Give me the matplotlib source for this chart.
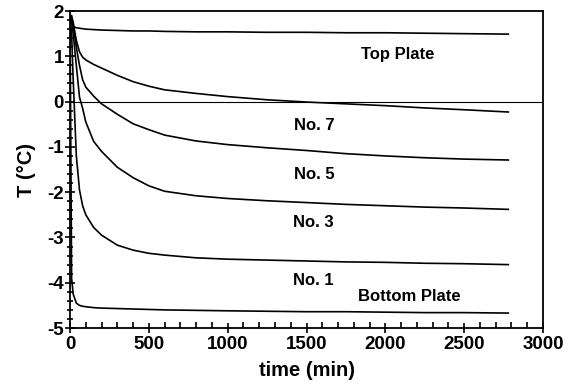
import matplotlib
matplotlib.use("Agg")
import matplotlib.pyplot as plt
from matplotlib.ticker import MultipleLocator

plt.rcParams['font.family'] = ['Liberation Sans', 'DejaVu Sans']
plt.rcParams['axes.unicode_minus'] = False

time = [0, 10, 20, 40, 60, 80, 100, 150, 200, 300, 400, 500, 600, 800,
        1000, 1250, 1500, 1750, 2000, 2250, 2500, 2780]

top_plate = [1.9, 1.75, 1.66, 1.63, 1.62, 1.61, 1.6, 1.59, 1.58, 1.57, 1.56, 1.56,
             1.55, 1.54, 1.54, 1.53, 1.53, 1.52, 1.52, 1.51, 1.5, 1.49]
no7 = [1.9, 1.9, 1.75, 1.35, 1.1, 0.98, 0.92, 0.82, 0.74, 0.58, 0.44, 0.34,
       0.26, 0.18, 0.11, 0.04, -0.01, -0.05, -0.09, -0.14, -0.18, -0.23]
no5 = [1.9, 1.85, 1.7, 1.2, 0.8, 0.48, 0.32, 0.12, -0.05, -0.28, -0.49, -0.62,
       -0.74, -0.87, -0.95, -1.02, -1.08, -1.15, -1.2, -1.24, -1.27, -1.29]
no3 = [1.9, 1.8, 1.5, 0.8, 0.1, -0.15, -0.45, -0.88, -1.1, -1.45, -1.68, -1.86,
       -1.98, -2.08, -2.14, -2.19, -2.23, -2.27, -2.3, -2.33, -2.35, -2.38]
no1 = [1.9, 1.5, 0.5, -1.2, -1.95, -2.3, -2.5, -2.78, -2.95, -3.17, -3.28, -3.35,
       -3.39, -3.45, -3.48, -3.5, -3.52, -3.54, -3.55, -3.57, -3.58, -3.6]
bottom_plate = [1.9, -3.9, -4.25, -4.45, -4.5, -4.52, -4.53, -4.55, -4.56, -4.57, -4.58, -4.59,
                -4.6, -4.61, -4.62, -4.63, -4.64, -4.64, -4.65, -4.66, -4.66, -4.67]

series = [top_plate, no7, no5, no3, no1, bottom_plate]

labels = ["Top Plate", "No. 7", "No. 5", "No. 3", "No. 1", "Bottom Plate"]
label_t = [2080, 1550, 1550, 1540, 1540, 2150]
label_T = [1.03, -0.52, -1.62, -2.68, -3.94, -4.31]

fig = plt.figure(figsize=(5.86, 3.88), dpi=100)
ax = fig.add_axes([0.1195, 0.1546, 0.8071, 0.817])

ax.axhline(0, color='black', lw=0.8)
for ys in series:
    ax.plot(time, ys, color='black', lw=1.2)

for txt, tx, ty in zip(labels, label_t, label_T):
    ax.text(tx, ty, txt, ha='center', va='center', fontsize=12, fontweight='bold')

ax.set_xlim(0, 3000)
ax.set_ylim(-5, 2)
ax.xaxis.set_major_locator(MultipleLocator(500))
ax.xaxis.set_minor_locator(MultipleLocator(100))
ax.yaxis.set_major_locator(MultipleLocator(1))
ax.yaxis.set_minor_locator(MultipleLocator(0.2))

ax.tick_params(axis='x', which='major', direction='inout', length=7, width=1.2,
               labelsize=13.5, pad=2)
ax.tick_params(axis='x', which='minor', direction='in', length=4, width=1.2)
ax.tick_params(axis='y', which='major', direction='inout', length=7, width=1.2,
               labelsize=13.5, pad=1)
ax.tick_params(axis='y', which='minor', direction='inout', length=5, width=1.2)
for lab in ax.get_xticklabels() + ax.get_yticklabels():
    lab.set_fontweight('bold')

for sp in ax.spines.values():
    sp.set_linewidth(1.3)

ax.set_xlabel("time (min)", fontsize=14.5, fontweight='bold', labelpad=6)
ax.set_ylabel("T (°C)", fontsize=14.5, fontweight='bold', labelpad=8)

fig.savefig("out.png", dpi=100)
